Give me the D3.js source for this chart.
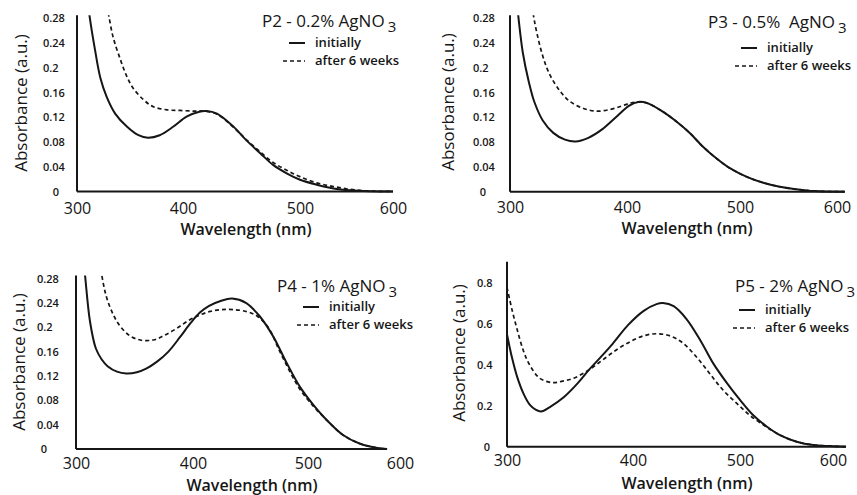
<!DOCTYPE html>
<html>
<head>
<meta charset="utf-8">
<script src="https://cdn.jsdelivr.net/npm/d3@7"></script>
<style>
  body { margin: 0; background: #fff; }
  svg text { font-family: "Open Sans", "Noto Sans", sans-serif; fill: #161616; white-space: pre; }
</style>
</head>
<body>
<svg id="chart" width="857" height="495"></svg>
<script>
// wavelength ticks (nm)
var xTicks = [300, 400, 500, 600];
var yTicksLow = [0, 0.04, 0.08, 0.12, 0.16, 0.2, 0.24, 0.28];
var yTicksHigh = [0, 0.2, 0.4, 0.6, 0.8];

var titles = ["P2 - 0.2% AgNO", "P3 - 0.5%  AgNO", "P4 - 1% AgNO", "P5 - 2% AgNO"];
var legendLabels = ["initially", "after 6 weeks"];

// [wavelength nm, absorbance]
var p2Initial = [[310,0.31],[312,0.282],[317,0.229],[322,0.184],[328,0.153],[336,0.126],[347,0.105],[358,0.091],[367,0.087],[378,0.091],[391,0.105],[403,0.121],[414,0.129],[420,0.130],[429,0.126],[443,0.105],[454,0.083],[466,0.062],[477,0.043],[489,0.029],[500,0.019],[518,0.011],[536,0.005],[554,0.002],[575,0.0005],[600,0]];
var p2After = [[328,0.30],[330,0.284],[334,0.250],[341,0.213],[347,0.186],[353,0.167],[363,0.148],[372,0.137],[385,0.132],[397,0.131],[409,0.130],[417,0.130],[429,0.125],[443,0.104],[454,0.084],[466,0.064],[477,0.047],[489,0.034],[500,0.024],[518,0.014],[536,0.008],[554,0.0035],[572,0.001],[600,0]];

var p3Initial = [[305,0.32],[307,0.285],[311,0.224],[316,0.178],[321,0.144],[328,0.115],[337,0.095],[347,0.084],[356,0.081],[367,0.087],[379,0.101],[391,0.121],[402,0.139],[410,0.145],[418,0.143],[431,0.130],[444,0.113],[456,0.094],[467,0.073],[479,0.054],[491,0.038],[507,0.024],[524,0.0145],[541,0.008],[558,0.004],[576,0.001],[608,0]];
var p3After = [[318,0.31],[320,0.285],[323,0.256],[328,0.219],[334,0.189],[343,0.162],[351,0.146],[362,0.135],[374,0.130],[386,0.133],[395,0.138],[403,0.143],[410,0.145],[418,0.143],[431,0.130],[444,0.113],[456,0.094],[467,0.073],[479,0.054],[491,0.038],[507,0.024],[524,0.0145],[541,0.008],[558,0.004],[576,0.001],[608,0]];

var p4Initial = [[305,0.34],[307.7,0.286],[312,0.209],[317,0.165],[322,0.147],[327,0.136],[335,0.127],[343,0.124],[352,0.126],[360,0.132],[369,0.143],[379,0.160],[389,0.184],[398,0.207],[406,0.224],[414,0.235],[424,0.243],[434,0.247],[446,0.240],[458,0.218],[470,0.184],[481,0.143],[493,0.102],[506,0.072],[520,0.048],[538,0.023],[556,0.009],[574,0.002],[586,0]];
var p4After = [[319,0.33],[322,0.286],[326,0.25],[332,0.22],[338,0.201],[346,0.186],[355,0.179],[366,0.179],[375,0.186],[386,0.198],[397,0.212],[406,0.220],[415,0.226],[425,0.229],[435,0.229],[447,0.2255],[456,0.218],[466,0.198],[475,0.162],[484,0.128],[493,0.098],[506,0.07],[520,0.048],[538,0.023],[556,0.009],[574,0.002],[586,0]];

var p5Initial = [[300,0.55],[302,0.49],[304,0.435],[308,0.343],[313,0.261],[318,0.206],[323,0.180],[327,0.172],[334,0.194],[345,0.242],[356,0.310],[365,0.376],[374,0.436],[384,0.505],[396,0.595],[410,0.665],[422,0.698],[428,0.703],[438,0.688],[450,0.625],[463,0.52],[475,0.408],[488,0.31],[500,0.229],[514,0.155],[529,0.098],[543,0.057],[561,0.0245],[579,0.008],[597,0.003],[614,0]];
var p5After = [[300,0.78],[304,0.67],[308,0.575],[313,0.47],[318,0.40],[326,0.335],[336,0.314],[345,0.322],[354,0.338],[365,0.376],[376,0.425],[387,0.475],[398,0.515],[410,0.543],[422,0.553],[435,0.542],[447,0.506],[460,0.435],[472,0.356],[484,0.278],[497,0.212],[511,0.152],[528,0.098],[543,0.057],[561,0.0245],[579,0.008],[597,0.003],[614,0]];

// layout of the four panels (pixel positions)
var panels = [
  { title: titles[0], initial: p2Initial, after: p2After,
    xRange: [77, 183, 300, 393], xEnd: 600, xLabelY: 214,
    y0: 191.5, y1: 18.3, yRef: 0.28, yTop: 0.285, yTicks: yTicksLow, yLabelX: 43, yZeroX: 56,
    titleX: 262, titleY: 27, legX: 283, legY: 43,
    absX: 21, absY: 103, waveX: 246, waveY: 235 },
  { title: titles[1], initial: p3Initial, after: p3After,
    xRange: [510, 627, 740, 837], xEnd: 608, xLabelY: 213,
    y0: 191.7, y1: 18.3, yRef: 0.28, yTop: 0.285, yTicks: yTicksLow, yLabelX: 473, yZeroX: 483,
    titleX: 708, titleY: 28, legX: 735, legY: 48,
    absX: 448, absY: 102, waveX: 687, waveY: 234 },
  { title: titles[2], initial: p4Initial, after: p4After,
    xRange: [76, 193, 308, 400], xEnd: 586, xLabelY: 469,
    y0: 449, y1: 278.5, yRef: 0.28, yTop: 0.285, yTicks: yTicksLow, yLabelX: 37, yZeroX: 44,
    titleX: 277, titleY: 292, legX: 297, legY: 307,
    absX: 19, absY: 362, waveX: 252, waveY: 490.5 },
  { title: titles[3], initial: p5Initial, after: p5After,
    xRange: [507, 633, 740, 833], xEnd: 614, xLabelY: 466,
    y0: 446.7, y1: 283.3, yRef: 0.8, yTop: 0.906, yTicks: yTicksHigh, yLabelX: 477, yZeroX: 487,
    titleX: 735, titleY: 292, legX: 733, legY: 310,
    absX: 459, absY: 353, waveX: 687, waveY: 489 }
];

var svg = d3.select("#chart");
var ink = "#161616";

panels.forEach(function (p, i) {
  var g = svg.append("g");

  // scan has uneven label spacing, so a piecewise scale
  var x = d3.scaleLinear().domain(xTicks).range(p.xRange);
  var y = d3.scaleLinear().domain([0, p.yRef]).range([p.y0, p.y1]);

  var clipId = "clip" + i;
  svg.append("clipPath").attr("id", clipId)
    .append("rect")
    .attr("x", x(300))
    .attr("y", y(p.yTop))
    .attr("width", x(p.xEnd) - x(300))
    .attr("height", y(0) - y(p.yTop) + 2);

  var line = d3.line()
    .x(function (d) { return x(d[0]); })
    .y(function (d) { return y(d[1]); })
    .curve(d3.curveCatmullRom.alpha(0.5));

  // curves
  g.append("path")
    .attr("d", line(p.initial))
    .attr("clip-path", "url(#" + clipId + ")")
    .attr("fill", "none").attr("stroke", ink).attr("stroke-width", 2);
  g.append("path")
    .attr("d", line(p.after))
    .attr("clip-path", "url(#" + clipId + ")")
    .attr("fill", "none").attr("stroke", ink).attr("stroke-width", 1.7)
    .attr("stroke-dasharray", "4,3");

  // axis lines
  g.append("line")
    .attr("x1", x(300)).attr("x2", x(300))
    .attr("y1", y(p.yTop)).attr("y2", y(0))
    .attr("stroke", ink).attr("stroke-width", 2);
  g.append("line")
    .attr("x1", x(300)).attr("x2", x(p.xEnd))
    .attr("y1", y(0)).attr("y2", y(0))
    .attr("stroke", ink).attr("stroke-width", 2);

  // x tick labels
  var xa = g.append("g")
    .attr("transform", "translate(0," + p.xLabelY + ")")
    .call(d3.axisBottom(x).tickValues(xTicks).tickSize(0).tickFormat(d3.format("d")));
  xa.select(".domain").remove();
  xa.selectAll("text")
    .attr("y", 0).attr("dy", 0)
    .attr("font-size", 16).attr("fill", ink);

  // y tick labels
  var ya = g.append("g")
    .attr("transform", "translate(" + p.yLabelX + ",0)")
    .call(d3.axisLeft(y).tickValues(p.yTicks).tickSize(0).tickFormat(function (d) { return String(+d.toFixed(2)); }));
  ya.select(".domain").remove();
  ya.selectAll("text")
    .attr("x", function (d) { return d === 0 ? p.yZeroX - p.yLabelX : 0; })
    .attr("text-anchor", function (d) { return d === 0 ? "middle" : "start"; })
    .attr("font-size", 11).attr("font-weight", 600).attr("fill", ink);

  // axis titles
  g.append("text")
    .attr("transform", "translate(" + p.absX + "," + p.absY + ") rotate(-90)")
    .attr("text-anchor", "middle").attr("dy", "0.35em")
    .attr("font-size", 17)
    .text("Absorbance (a.u.)");
  g.append("text")
    .attr("x", p.waveX).attr("y", p.waveY)
    .attr("text-anchor", "middle")
    .attr("font-size", 16).attr("font-weight", 600)
    .text("Wavelength (nm)");

  // panel title with subscript
  var t = g.append("text")
    .attr("x", p.titleX).attr("y", p.titleY)
    .attr("font-size", 17)
    .text(p.title);
  t.append("tspan").attr("dx", 3).attr("dy", 5).attr("font-size", 15).text("3");

  // legend
  var leg = g.append("g").attr("transform", "translate(" + p.legX + "," + p.legY + ")");
  leg.append("line").attr("x1", 6).attr("x2", 22).attr("y1", 0).attr("y2", 0)
    .attr("stroke", ink).attr("stroke-width", 2);
  leg.append("line").attr("x1", 0).attr("x2", 22).attr("y1", 18).attr("y2", 18)
    .attr("stroke", ink).attr("stroke-width", 1.7).attr("stroke-dasharray", "4,3");
  leg.selectAll("text.lg")
    .data(legendLabels)
    .join("text")
    .attr("class", "lg")
    .attr("x", 32)
    .attr("y", function (d, k) { return k * 18 + 4; })
    .attr("font-size", 13).attr("font-weight", 600)
    .text(function (d) { return d; });
});
</script>
</body>
</html>
